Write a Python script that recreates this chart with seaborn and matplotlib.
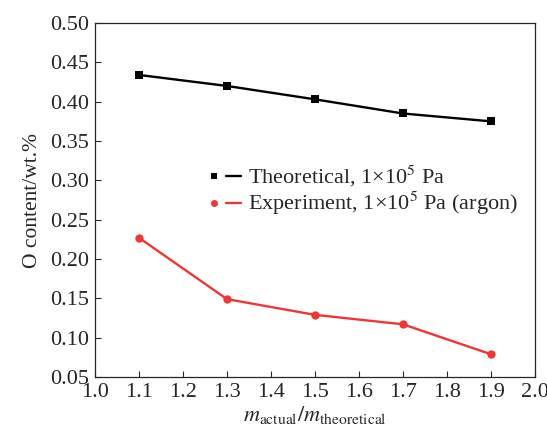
import matplotlib
matplotlib.use("Agg")
import matplotlib.pyplot as plt
from matplotlib.lines import Line2D
from matplotlib.legend_handler import HandlerTuple
import pandas as pd
import seaborn as sns

# data
ratio = [1.1, 1.3, 1.5, 1.7, 1.9]
theoretical = [0.434, 0.420, 0.403, 0.385, 0.375]
experiment = [0.227, 0.149, 0.129, 0.117, 0.079]
labels = ["Theoretical, 1×10$^5$ Pa", "Experiment, 1×10$^5$ Pa (argon)"]
colors = ["black", "#f03535"]
markers = ["s", "o"]

sns.set_style("ticks")
plt.rcParams["font.family"] = ["Liberation Serif", "DejaVu Serif"]
plt.rcParams["mathtext.fontset"] = "stix"
plt.rcParams["xtick.direction"] = "in"
plt.rcParams["ytick.direction"] = "in"

df = pd.DataFrame({
    "ratio": ratio * 2,
    "value": theoretical + experiment,
    "series": [labels[0]] * len(ratio) + [labels[1]] * len(ratio),
})

fig = plt.figure(figsize=(5.47, 4.28), dpi=100)
ax = fig.add_axes([0.1737, 0.1192, 0.804, 0.827])

for lab, c, m in zip(labels, colors, markers):
    sub = df[df["series"] == lab]
    sns.lineplot(data=sub, x="ratio", y="value", ax=ax, color=c, marker=m,
                 markersize=6, markeredgewidth=0, linewidth=1.7, legend=False)

ax.set_xlim(1.0, 2.0)
ax.set_ylim(0.05, 0.50)
ax.set_xticks([1.0 + 0.1 * i for i in range(11)])
ax.set_yticks([0.05 + 0.05 * i for i in range(10)])
ax.xaxis.set_major_formatter(matplotlib.ticker.FormatStrFormatter("%.1f"))
ax.yaxis.set_major_formatter(matplotlib.ticker.FormatStrFormatter("%.2f"))
ax.tick_params(labelsize=16, length=4, width=0.8, top=False, right=False, pad=4)
for s in ax.spines.values():
    s.set_linewidth(0.9)

ax.set_xlabel(r"$m_{\mathrm{actual}}/m_{\mathrm{theoretical}}$", fontsize=16, labelpad=2)
ax.set_ylabel("O content/wt.%", fontsize=15.5, labelpad=6)

handles = []
for c, m in zip(colors, markers):
    pt = Line2D([], [], color=c, marker=m, linestyle="none", markersize=5, markeredgewidth=0)
    ln = Line2D([], [], color=c, linewidth=1.7)
    handles.append((pt, ln))
ax.legend(handles, labels, handler_map={tuple: HandlerTuple(ndivide=None, pad=0.2)},
          loc="center left", bbox_to_anchor=(0.232, 0.527), frameon=False,
          fontsize=16, handlelength=1.6, handletextpad=0.3, labelspacing=0.05,
          borderaxespad=0)

fig.savefig("out.png", dpi=100)
